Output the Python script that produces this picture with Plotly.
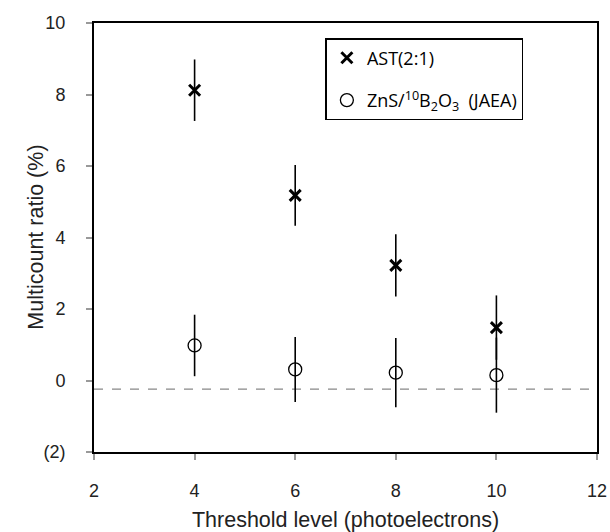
import plotly.graph_objects as go

thresholds = [4, 6, 8, 10]
ast_ratio = [8.12, 5.18, 3.22, 1.48]
ast_err = [0.86, 0.85, 0.87, 0.9]
zns_ratio = [0.98, 0.31, 0.22, 0.15]
zns_err = [0.86, 0.91, 0.97, 1.05]
baseline = -0.24
y_tickvals = [-2, 0, 2, 4, 6, 8, 10]
y_ticktext = ["(2)", "0", "2", "4", "6", "8", "10"]
x_tickvals = [2, 4, 6, 8, 10, 12]
x_title = "Threshold level (photoelectrons)"
y_title = "Multicount ratio (%)"

fig = go.Figure()
fig.add_trace(go.Scatter(
    x=[2, 12], y=[baseline, baseline], mode="lines",
    line=dict(color="#888888", width=1.3, dash="dash"),
    showlegend=False, hoverinfo="skip"))
fig.add_trace(go.Scatter(
    x=thresholds, y=ast_ratio, mode="markers", name="AST(2:1)", legendgroup="a",
    marker=dict(symbol="x-thin", size=11, line=dict(color="black", width=3), color="black"),
    error_y=dict(type="data", array=ast_err, color="black", thickness=1.6, width=0)))
fig.add_trace(go.Scatter(
    x=thresholds, y=zns_ratio, mode="markers", legendgroup="b",
    name="ZnS/<sup>10</sup>B<sub>2</sub>O<sub>3</sub>  (JAEA)",
    marker=dict(symbol="circle-open", size=13, line=dict(color="black", width=1.3), color="black"),
    error_y=dict(type="data", array=zns_err, color="black", thickness=1.6, width=0)))

font_fam = "Liberation Sans, Arial, sans-serif"
axis_common = dict(
    showline=True, linecolor="black", linewidth=2, mirror=True,
    ticks="outside", ticklen=6, tickcolor="#999999", tickwidth=1.5,
    showgrid=False, zeroline=False, automargin=False,
    tickfont=dict(family=font_fam, size=18, color="#222222"),
    title_font=dict(family=font_fam, size=21.5, color="#222222"),
)
fig.update_xaxes(range=[2, 12], tickvals=x_tickvals, ticklabelstandoff=15,
                 title_text=x_title, title_standoff=14, **axis_common)
fig.update_yaxes(range=[-2, 10], tickvals=y_tickvals, ticktext=y_ticktext,
                 ticklabelstandoff=17, **axis_common)

fig.add_annotation(text=y_title, xref="paper", yref="paper", x=-0.117, y=0.5,
                   xanchor="center", yanchor="middle", textangle=-90, showarrow=False,
                   font=dict(family=font_fam, size=21.5, color="#222222"))

fig.update_layout(
    width=610, height=532,
    margin=dict(l=94, r=13, t=23, b=80),
    plot_bgcolor="white", paper_bgcolor="white",
    legend=dict(x=0.46, y=0.965, xanchor="left", yanchor="top",
                bordercolor="black", borderwidth=1.5, bgcolor="white",
                font=dict(family="Open Sans", size=18, color="black"),
                tracegroupgap=16, itemwidth=30),
)
fig.write_html("out.html")
